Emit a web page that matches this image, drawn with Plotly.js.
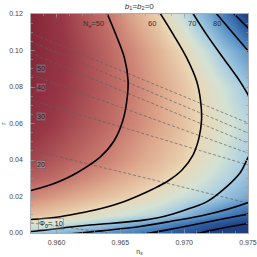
<!DOCTYPE html>
<html>
<head>
<meta charset="utf-8">
<script src="https://cdn.plot.ly/plotly-3.0.1.min.js"></script>
<style>html,body{margin:0;padding:0;background:#fff;}#chart{width:257px;height:257px;}</style>
</head>
<body>
<div id="chart"></div>
<script>
// ---- data ----
// background field: estimated N_e on a coarse (n_s, r) grid
const nsGrid = [0.958, 0.960, 0.962, 0.964, 0.966, 0.968, 0.970, 0.972, 0.974, 0.975];
const rGrid  = [0, 0.005, 0.01, 0.02, 0.03, 0.04, 0.06, 0.08, 0.10, 0.12];
const neGrid = [
  [71.3, 74.3, 77.3, 80.4, 84.8, 89.2, 94.5, 100, 105, 108],
  [63.3, 65.8, 68.4, 71.6, 75.8, 80, 86.3, 92.9, 98.5, 101.4],
  [57.3, 59, 61.1, 63.7, 66.3, 68.8, 73.9, 80.8, 87.1, 90.2],
  [51.7, 53.7, 55.7, 57.7, 59.7, 62.9, 66.1, 69.4, 74.1, 76.6],
  [47.8, 49.4, 51.5, 53.9, 56.3, 58.8, 62, 66, 70.1, 72.9],
  [45.5, 47.3, 49.1, 51.2, 54, 56.7, 59.4, 63.5, 68, 70.2],
  [42.6, 44.7, 46.8, 48.9, 51.4, 54.6, 57.8, 61.4, 65.6, 67.8],
  [41, 43.4, 45.7, 48.1, 50.8, 54.4, 58, 62.6, 68.2, 71.3],
  [40.2, 43, 45.7, 48.5, 51.9, 56.1, 60.5, 67.6, 75.7, 80],
  [40, 43.5, 46.8, 50, 54.8, 59.6, 67.3, 77.1, 90.9, 102]
];

// N_e contour lines (traced)
const ne50_ns = [0.96395,0.96466,0.96532,0.96560,0.96556,0.96521,0.96450,0.96341,0.96184,0.96074,0.95949,0.95800,0.95776];
const ne50_r  = [0.1205,0.1085,0.0959,0.0838,0.0756,0.0619,0.0504,0.0416,0.0340,0.0299,0.0263,0.0233,0.0228];
const ne60_ns = [0.96811,0.96915,0.97020,0.97098,0.97129,0.97136,0.97116,0.97069,0.96983,0.96873,0.96756,0.96654,0.96497,0.96301,0.96106,0.95949,0.95800,0.95776];
const ne60_r  = [0.1205,0.1087,0.0959,0.0831,0.0722,0.0619,0.0521,0.0427,0.0345,0.0285,0.0241,0.0208,0.0164,0.0126,0.0099,0.0082,0.0074,0.0073];
const ne70_ns = [0.97067,0.97176,0.97306,0.97437,0.97502,0.97555,0.97570,0.97555,0.97502,0.97437,0.97304,0.97179,0.97046,0.96912,0.96787,0.96654,0.96419,0.96262,0.96106,0.95949,0.95800,0.95776];
const ne70_r  = [0.1205,0.1087,0.0959,0.0831,0.0755,0.0674,0.0575,0.0482,0.0416,0.0329,0.0236,0.0172,0.0135,0.0104,0.0082,0.0068,0.0052,0.0044,0.0033,0.0019,0.0008,0.0007];
const ne80up_ns = [0.97249,0.97375,0.97502,0.97563];
const ne80up_r  = [0.1205,0.1101,0.0996,0.0937];
const ne80lo_ns = [0.97563,0.97502,0.97179,0.96889,0.96654,0.96380,0.96184,0.96106];
const ne80lo_r  = [0.0186,0.0167,0.0101,0.0063,0.0036,0.0014,0.0,-0.0005];
const ne90up_ns = [0.97385,0.97502,0.97563];
const ne90up_r  = [0.1205,0.1123,0.1085];
const ne90lo_ns = [0.97563,0.97502,0.97163,0.97085,0.96836,0.96732,0.96654];
const ne90lo_r  = [0.0112,0.0104,0.0058,0.0047,0.0013,0.0,-0.0005];
const ne100lo_ns = [0.97563,0.97502,0.97202,0.97124,0.97046];
const ne100lo_r  = [0.0058,0.0052,0.0013,0.0,-0.0005];

// phi_0 dashed lines (traced)
const phiLines = [
  {ns:[0.958,0.975], r:[0.1094,0.0603]},
  {ns:[0.958,0.975], r:[0.1048,0.0548]},
  {ns:[0.958,0.975], r:[0.0985,0.0493]},
  {ns:[0.958,0.975], r:[0.0866,0.0438]},
  {ns:[0.958,0.975], r:[0.0729,0.0373]},
  {ns:[0.958,0.975], r:[0.0455,0.0164]},
  {ns:[0.958,0.96419], r:[0.0055,0.0]}
];

// labels
const neLabels = ["N<sub>e</sub>=50","60","70","80"];
const neLabelNs = [0.96286,0.96748,0.97065,0.97257];
const neLabelR  = [0.1145,0.1147,0.1147,0.1147];
const phiLabels = ["50","40","30","20","Φ<sub>0</sub>= 10"];
const phiLabelNs = [0.95882,0.95882,0.95882,0.95882,0.95957];
const phiLabelR  = [0.0899,0.0800,0.0641,0.0373,0.0052];
const xTicks = [0.960,0.965,0.970,0.975];
const yTicks = [0.00,0.02,0.04,0.06,0.08,0.10,0.12];

// ---- drawing ----
const colorscale = [
  [0,'rgb(122,30,50)'],
  [0.097,'rgb(152,55,70)'],
  [0.194,'rgb(198,118,108)'],
  [0.274,'rgb(222,170,142)'],
  [0.355,'rgb(234,214,180)'],
  [0.435,'rgb(212,226,212)'],
  [0.516,'rgb(168,205,224)'],
  [0.677,'rgb(92,148,200)'],
  [0.839,'rgb(48,98,165)'],
  [1,'rgb(30,64,128)']
];

const traces = [{
  type:'heatmap', x:nsGrid, y:rGrid, z:neGrid, zsmooth:'best',
  colorscale:colorscale, zmin:38, zmax:100, showscale:false, hoverinfo:'skip'
}];

phiLines.forEach(l => traces.push({
  type:'scatter', mode:'lines', x:l.ns, y:l.r,
  line:{color:'rgba(95,95,95,0.85)', width:0.8, dash:'3px,2px'}, hoverinfo:'skip'
}));

const solid = [[ne50_ns,ne50_r],[ne60_ns,ne60_r],[ne70_ns,ne70_r],[ne80up_ns,ne80up_r],[ne80lo_ns,ne80lo_r],
  [ne90up_ns,ne90up_r],[ne90lo_ns,ne90lo_r],[ne100lo_ns,ne100lo_r]];
solid.forEach(s => traces.push({
  type:'scatter', mode:'lines', x:s[0], y:s[1],
  line:{color:'#000', width:1.6, shape:'spline', smoothing:1}, hoverinfo:'skip'
}));

const annotations = [];
neLabels.forEach((t,i) => annotations.push({
  x:neLabelNs[i], y:neLabelR[i], xref:'x', yref:'y', text:t, showarrow:false,
  font:{family:'Liberation Sans, Arial, sans-serif', size:7.5, color:'#333'}
}));
phiLabels.forEach((t,i) => annotations.push({
  x:phiLabelNs[i], y:phiLabelR[i], xref:'x', yref:'y', text:t, showarrow:false,
  font:{family:'Liberation Sans, Arial, sans-serif', size: i===4 ? 7.5 : 7, color:'#222'},
  bordercolor:'rgba(80,80,80,0.6)', borderwidth:0.6, borderpad:0.5, bgcolor:'rgba(255,255,255,0.18)'
}));

const axFont = {family:'Liberation Sans, Arial, sans-serif', size:7, color:'#444'};
const layout = {
  width:257, height:257,
  margin:{l:31, r:9, t:14, b:24, pad:0},
  paper_bgcolor:'#fff', plot_bgcolor:'#fff',
  showlegend:false,
  title:{text:'<i>b</i><sub>1</sub>=<i>b</i><sub>2</sub>=0', font:{family:'Liberation Sans, Arial, sans-serif', size:8, color:'#333'},
    x:0.542, xanchor:'center', y:0.977, yanchor:'middle', yref:'container'},
  xaxis:{range:[0.958,0.975], tickvals:xTicks, ticktext:xTicks.map(v=>v.toFixed(3)),
    ticks:'inside', ticklen:4, tickwidth:0.6, tickcolor:'#999', mirror:'ticks',
    showline:true, linecolor:'#999', linewidth:0.8, showgrid:false, zeroline:false,
    tickfont:axFont, ticklabelstandoff:3,
    minor:{dtick:0.001, tick0:0.958, ticks:'inside', ticklen:2, tickcolor:'#999', showgrid:false},
    title:{text:'n<sub>s</sub>', font:{family:'Liberation Sans, Arial, sans-serif', size:7, color:'#444'}, standoff:3}},
  yaxis:{range:[0,0.12], tickvals:yTicks, ticktext:yTicks.map(v=>v.toFixed(2)),
    ticks:'inside', ticklen:4, tickwidth:0.6, tickcolor:'#999', mirror:'ticks',
    showline:true, linecolor:'#999', linewidth:0.8, showgrid:false, zeroline:false,
    tickfont:axFont, ticklabelstandoff:6,
    minor:{dtick:0.005, tick0:0, ticks:'inside', ticklen:2, tickcolor:'#999', showgrid:false},
    title:{text:'r', font:{family:'Liberation Sans, Arial, sans-serif', size:7, color:'#444'}, standoff:2}},
  annotations:annotations
};

Plotly.newPlot('chart', traces, layout, {staticPlot:true, displayModeBar:false});
</script>
</body>
</html>
